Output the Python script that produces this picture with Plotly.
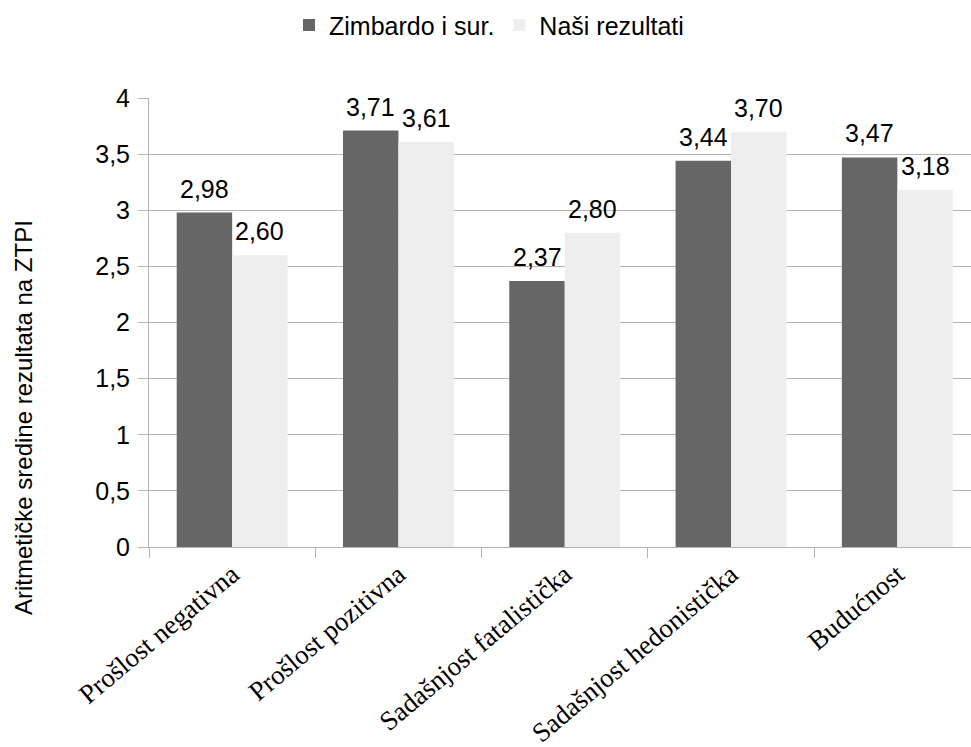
import plotly.graph_objects as go

categories = [
    "Prošlost negativna",
    "Prošlost pozitivna",
    "Sadašnjost fatalistička",
    "Sadašnjost hedonistička",
    "Budućnost",
]
zimbardo = [2.98, 3.71, 2.37, 3.44, 3.47]
nasi = [2.60, 3.61, 2.80, 3.70, 3.18]
series_names = ["Zimbardo i sur.", "Naši rezultati"]
y_title = "Aritmetičke sredine rezultata na ZTPI"

SANS = "Liberation Sans, Arial, sans-serif"
SERIF = "Liberation Serif, Times New Roman, serif"
GRID = "#b3b3b3"
BARGAP = 0.333

fig = go.Figure()
series = [
    (series_names[0], zimbardo, "#666666"),
    (series_names[1], nasi, "#eeeeee"),
]
for name, vals, color in series:
    fig.add_trace(go.Bar(
        x=categories, y=vals, name=name,
        marker=dict(color=color, line=dict(width=0)),
    ))

# value labels above each bar, centred on the bar within its group
bar_w = (1 - BARGAP) / len(series)
for s, (_, vals, _) in enumerate(series):
    offset = -(1 - BARGAP) / 2 + bar_w * (s + 0.5)
    for i, v in enumerate(vals):
        fig.add_annotation(
            x=i + offset, y=v, xref="x", yref="y",
            text=f"{v:.2f}".replace(".", ","),
            showarrow=False, xanchor="center", yanchor="bottom", yshift=8,
            font=dict(family=SANS, size=25, color="#000000"),
        )

fig.add_annotation(
    text=y_title, textangle=-90,
    xref="paper", yref="paper", x=(23 - 149) / 822, y=(547 - 418) / 449,
    xanchor="center", yanchor="middle", showarrow=False,
    font=dict(family=SANS, size=24, color="#000000"),
)

fig.update_layout(
    width=971, height=747,
    margin=dict(l=149, r=0, t=98, b=200, pad=0),
    paper_bgcolor="white", plot_bgcolor="white",
    separators=", ",
    barmode="group", bargap=BARGAP, bargroupgap=0,
    showlegend=True,
    legend=dict(
        orientation="h", xref="container", yref="container",
        x=489 / 971, xanchor="center", y=0.997, yanchor="top",
        font=dict(family=SANS, size=25, color="#000000"),
        itemwidth=30,
    ),
    xaxis=dict(
        range=[-0.5, 4.443], tickson="boundaries",
        ticks="outside", ticklen=10, tickcolor=GRID,
        showline=True, linecolor=GRID, linewidth=1,
        showgrid=False, tickangle=-40,
        tickfont=dict(family=SERIF, size=27, color="#000000"),
    ),
    yaxis=dict(
        range=[0, 4], dtick=0.5,
        ticks="outside", ticklen=10, tickcolor=GRID,
        showline=True, linecolor=GRID, linewidth=1,
        showgrid=True, gridcolor=GRID, gridwidth=1, zeroline=False,
        tickfont=dict(family=SANS, size=25, color="#000000"),
        ticklabelstandoff=3,
    ),
)

fig.write_html("out.html")
